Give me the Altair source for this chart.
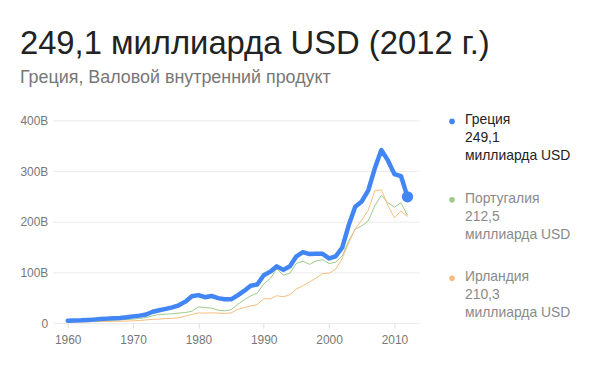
import altair as alt
import pandas as pd

years = list(range(1960, 2013))

greece = [4.45, 5.01, 5.33, 5.95, 6.76, 7.78, 8.72, 9.58, 10.15, 11.38,
          13.14, 14.60, 16.90, 22.24, 25.34, 27.90, 30.88, 35.10, 42.20, 52.80,
          55.20, 51.00, 53.50, 49.20, 47.10, 46.90, 54.80, 63.40, 73.60, 76.20,
          94.20, 101.40, 111.90, 104.90, 112.10, 131.70, 139.90, 136.10, 136.90, 136.60,
          127.60, 131.80, 148.60, 193.00, 229.70, 240.10, 261.80, 305.40, 341.60, 321.00,
          294.00, 290.20, 249.10]

portugal = [3.19, 3.42, 3.67, 3.96, 4.31, 4.79, 5.22, 5.72, 6.38, 7.00,
            7.82, 9.00, 10.90, 14.40, 16.90, 17.60, 18.30, 19.70, 20.70, 23.30,
            31.80, 30.60, 29.50, 25.60, 24.10, 26.10, 37.00, 45.50, 53.60, 58.90,
            77.30, 88.00, 107.20, 94.50, 98.20, 117.90, 121.90, 115.80, 122.50, 125.20,
            117.50, 120.30, 132.40, 161.60, 185.20, 191.80, 201.80, 231.40, 252.20, 237.40,
            228.70, 237.40, 212.50]

ireland = [1.94, 2.09, 2.26, 2.45, 2.77, 2.95, 3.10, 3.37, 3.50, 3.98,
           4.41, 5.04, 6.15, 7.31, 7.71, 8.96, 9.02, 10.70, 13.50, 16.90,
           20.10, 19.70, 20.20, 19.60, 18.90, 19.90, 26.70, 30.40, 33.90, 36.30,
           47.90, 47.60, 54.00, 51.70, 56.00, 67.00, 73.70, 81.10, 88.50, 97.70,
           98.30, 106.10, 127.30, 158.00, 186.00, 203.00, 223.00, 261.00, 263.00, 232.00,
           208.00, 221.00, 210.30]

countries = ["Греция", "Португалия", "Ирландия"]
latest_text = ["249,1", "212,5", "210,3"]
unit_text = "миллиарда USD"
colors = ["#4285f4", "#9dcb8b", "#f7bd7e"]
x_ticks = [1960, 1970, 1980, 1990, 2000, 2010]
y_ticks = [0, 100, 200, 300, 400]

title_text = "249,1 миллиарда USD (2012 г.)"
subtitle_text = "Греция, Валовой внутренний продукт"

FONT = "Liberation Sans"

df = pd.DataFrame({
    "year": years * 3,
    "country": [countries[0]] * len(years) + [countries[1]] * len(years) + [countries[2]] * len(years),
    "gdp": greece + portugal + ireland,
})

color_scale = alt.Scale(domain=countries, range=colors)

base = alt.Chart(df).encode(
    x=alt.X("year:Q",
            scale=alt.Scale(domain=[1957.7, 2013.8], nice=False, zero=False),
            axis=alt.Axis(values=x_ticks, format="d", title=None, grid=False,
                          domain=False, ticks=True, tickSize=5, tickColor="#dddddd",
                          labelColor="#777777", labelFontSize=12, labelFont=FONT,
                          labelPadding=7)),
    y=alt.Y("gdp:Q",
            scale=alt.Scale(domain=[0, 400], nice=False),
            axis=alt.Axis(values=y_ticks, title=None, grid=True, gridColor="#ebebeb",
                          domain=False, ticks=False, labelPadding=5, minExtent=40,
                          labelColor="#777777", labelFontSize=12, labelFont=FONT,
                          labelExpr="datum.value == 0 ? '0' : datum.value + 'B'")),
    color=alt.Color("country:N", scale=color_scale, legend=None),
)

others = base.transform_filter(alt.datum.country != countries[0]).mark_line(strokeWidth=1)
greece_line = base.transform_filter(alt.datum.country == countries[0]).mark_line(
    strokeWidth=4.5, strokeJoin="round", strokeCap="round")
endpoint = base.transform_filter(
    (alt.datum.country == countries[0]) & (alt.datum.year == years[-1])
).mark_circle(size=130, opacity=1)

main = alt.layer(others, greece_line, endpoint).properties(width=369, height=204)

leg_df = pd.DataFrame({
    "idx": [0, 1, 2],
    "country": countries,
    "label": [f"{c}\n{v}\n{unit_text}" for c, v in zip(countries, latest_text)],
})

leg_y = alt.Y("idx:Q", scale=alt.Scale(domain=[0, 2], range=[1, 159]), axis=None)

leg_dots = alt.Chart(leg_df).mark_circle(size=32, opacity=1).encode(
    x=alt.value(0), y=leg_y,
    color=alt.Color("country:N", scale=color_scale, legend=None),
)
leg_text = alt.Chart(leg_df).mark_text(
    align="left", baseline="top", dy=-8, lineBreak="\n", lineHeight=18,
    fontSize=14, font=FONT,
).encode(
    x=alt.value(13), y=leg_y, text="label:N",
    color=alt.condition(alt.datum.country == countries[0], alt.value("#222222"), alt.value("#8a8a8a")),
)
legend = alt.layer(leg_dots, leg_text).properties(width=150, height=204)

chart = alt.hconcat(main, legend, spacing=30).properties(
    title=alt.TitleParams(
        text=title_text, subtitle=subtitle_text, anchor="start", frame="bounds",
        fontSize=33, font=FONT, fontWeight="normal", color="#222222",
        subtitleFontSize=18, subtitleFont=FONT, subtitleColor="#777777",
        subtitlePadding=8, offset=27, dx=7,
    ),
    padding={"left": 5, "top": 19, "right": 5, "bottom": 5},
).configure_view(stroke=None)

chart.save("out.html", embed_options={"renderer": "svg", "actions": False})
